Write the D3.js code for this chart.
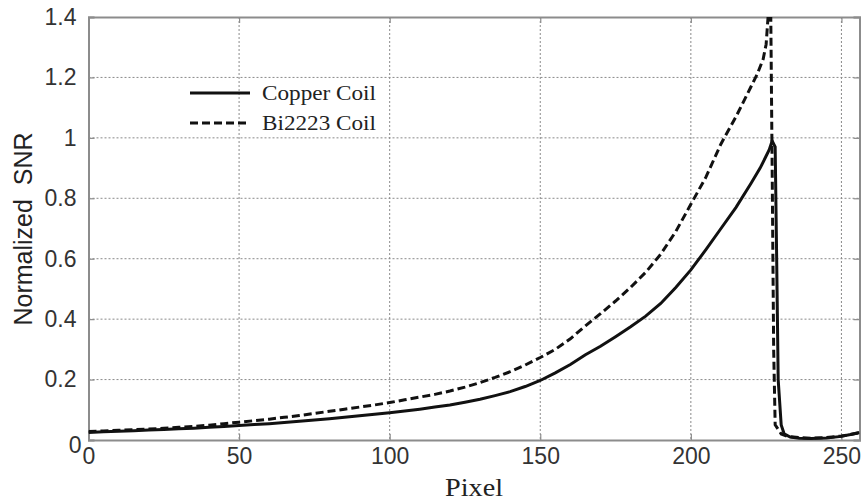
<!DOCTYPE html>
<html>
<head>
<meta charset="utf-8">
<script src="https://cdn.jsdelivr.net/npm/d3@7"></script>
<style>
  html, body { margin: 0; padding: 0; background: #fff; }
  svg { display: block; }
</style>
</head>
<body>
<svg id="chart" width="861" height="503"></svg>
<script>
// ---- data ----
const copperPixel = [0,5,10,15,20,25,30,35,40,45,50,55,60,65,70,75,80,85,90,95,100,105,110,115,120,125,130,135,140,145,150,155,160,165,170,175,180,185,190,195,200,205,210,215,220,223,225,226,227,228,228.5,229,230,231,233,236,240,245,250,253,256];
const copperSNR   = [0.025,0.027,0.029,0.031,0.033,0.035,0.037,0.039,0.042,0.045,0.048,0.051,0.054,0.058,0.062,0.066,0.070,0.075,0.080,0.085,0.090,0.096,0.102,0.109,0.116,0.125,0.135,0.147,0.160,0.177,0.197,0.222,0.250,0.282,0.310,0.342,0.375,0.410,0.452,0.505,0.563,0.630,0.700,0.770,0.850,0.900,0.940,0.960,0.990,0.970,0.600,0.200,0.050,0.020,0.010,0.006,0.005,0.007,0.012,0.018,0.025];

const biPixel = [0,5,10,15,20,25,30,35,40,45,50,55,60,65,70,75,80,85,90,95,100,105,110,115,120,125,130,135,140,145,150,155,160,165,170,175,180,185,190,195,200,205,210,215,220,222,224,225,226,226.5,227,227.5,228,230,232,236,240,245,250,253,256];
const biSNR   = [0.028,0.030,0.032,0.034,0.036,0.039,0.042,0.045,0.049,0.054,0.059,0.064,0.069,0.075,0.081,0.088,0.095,0.102,0.109,0.116,0.124,0.133,0.142,0.151,0.162,0.175,0.190,0.207,0.226,0.248,0.273,0.300,0.335,0.378,0.418,0.460,0.505,0.555,0.615,0.690,0.780,0.870,0.980,1.070,1.170,1.210,1.260,1.310,1.450,1.450,0.900,0.300,0.050,0.020,0.012,0.008,0.006,0.008,0.013,0.018,0.024];

const xTicks = [0,50,100,150,200,250];
const yTicks = [0,0.2,0.4,0.6,0.8,1,1.2,1.4];
const yTickLabels = ["0","0.2","0.4","0.6","0.8","1","1.2","1.4"];
const seriesNames = ["Copper Coil","Bi2223 Coil"];

// ---- layout ----
const svg = d3.select("#chart");
const pLeft = 88.5, pRight = 859.5, pTop = 17, pBottom = 440;
const x = d3.scaleLinear().domain([0,256]).range([pLeft,pRight]);
const y = d3.scaleLinear().domain([0,1.4]).range([pBottom,pTop]);

const gridColor = "#8a8a8a";
const boxColor = "#8c8c8c";

// grid
const grid = svg.append("g");
grid.selectAll("line.gx").data(xTicks.filter(d => d>0)).enter().append("line")
  .attr("x1", d=>x(d)).attr("x2", d=>x(d)).attr("y1", pTop).attr("y2", pBottom)
  .attr("stroke", gridColor).attr("stroke-width",1).attr("stroke-dasharray","2,2");
grid.selectAll("line.gy").data(yTicks.filter(d => d>0 && d<1.4)).enter().append("line")
  .attr("x1", pLeft).attr("x2", pRight).attr("y1", d=>y(d)).attr("y2", d=>y(d))
  .attr("stroke", gridColor).attr("stroke-width",1).attr("stroke-dasharray","2,2");

// axes (ticks inward)
const xAxisB = d3.axisBottom(x).tickValues(xTicks).tickSize(-6).tickFormat(d3.format("d")).tickPadding(10);
const xAxisT = d3.axisTop(x).tickValues(xTicks).tickSize(-6).tickFormat("");
const yAxisL = d3.axisLeft(y).tickValues(yTicks).tickSize(-6).tickFormat((d,i)=>yTickLabels[i]).tickPadding(12);
const yAxisR = d3.axisRight(y).tickValues(yTicks).tickSize(-6).tickFormat("");

function styleAxis(g){
  g.select(".domain").attr("stroke", boxColor).attr("stroke-width", 2);
  g.selectAll(".tick line").attr("stroke", boxColor).attr("stroke-width", 1.2);
  g.selectAll("text").attr("fill","#333").style("font-family","'Liberation Sans', Arial, sans-serif").style("font-size","23px");
}
const gxB = svg.append("g").attr("transform",`translate(0,${pBottom})`).call(xAxisB).call(styleAxis);
svg.append("g").attr("transform",`translate(0,${pTop})`).call(xAxisT).call(styleAxis);
const gyL = svg.append("g").attr("transform",`translate(${pLeft},0)`).call(yAxisL).call(styleAxis);
svg.append("g").attr("transform",`translate(${pRight},0)`).call(yAxisR).call(styleAxis);
// shift zero labels like MATLAB style
gyL.selectAll(".tick").filter(d=>d===0).select("text").attr("dy","0.55em").attr("x",-7);
gxB.selectAll(".tick text").attr("dy","0.6em");

// clip
svg.append("clipPath").attr("id","plotclip").append("rect")
  .attr("x",pLeft).attr("y",pTop).attr("width",pRight-pLeft).attr("height",pBottom-pTop);

const line = d3.line().x(d=>x(d[0])).y(d=>y(d[1]));
const copperData = copperPixel.map((p,i)=>[p,copperSNR[i]]);
const biData = biPixel.map((p,i)=>[p,biSNR[i]]);

const plot = svg.append("g").attr("clip-path","url(#plotclip)");
plot.append("path").datum(biData).attr("d",line)
  .attr("fill","none").attr("stroke","#111").attr("stroke-width",3).attr("stroke-dasharray","8,4");
plot.append("path").datum(copperData).attr("d",line)
  .attr("fill","none").attr("stroke","#111").attr("stroke-width",3);

// legend
const legend = svg.append("g");
const legY = [93, 123];
const dashes = [null, "8,4"];
seriesNames.forEach((name,i)=>{
  legend.append("line").attr("x1",190).attr("x2",250).attr("y1",legY[i]).attr("y2",legY[i])
    .attr("stroke","#111").attr("stroke-width",3).attr("stroke-dasharray",dashes[i]);
  legend.append("text").attr("x",262).attr("y",legY[i]+6.5)
    .attr("textLength",114).attr("lengthAdjust","spacingAndGlyphs")
    .style("font-family","'Liberation Serif', 'Times New Roman', serif").style("font-size","21px")
    .attr("fill","#222").text(name);
});

// axis labels
svg.append("text").attr("x",474).attr("y",496).attr("text-anchor","middle")
  .style("font-family","'Liberation Serif', 'Times New Roman', serif").style("font-size","25px")
  .attr("textLength",58).attr("lengthAdjust","spacingAndGlyphs")
  .attr("fill","#222").text("Pixel");
svg.append("text").attr("transform","translate(32,229) rotate(-90)").attr("text-anchor","middle")
  .style("font-family","'Liberation Sans', Arial, sans-serif").style("font-size","25px")
  .style("white-space","pre").attr("xml:space","preserve")
  .attr("fill","#222").text("Normalized  SNR");
</script>
</body>
</html>
